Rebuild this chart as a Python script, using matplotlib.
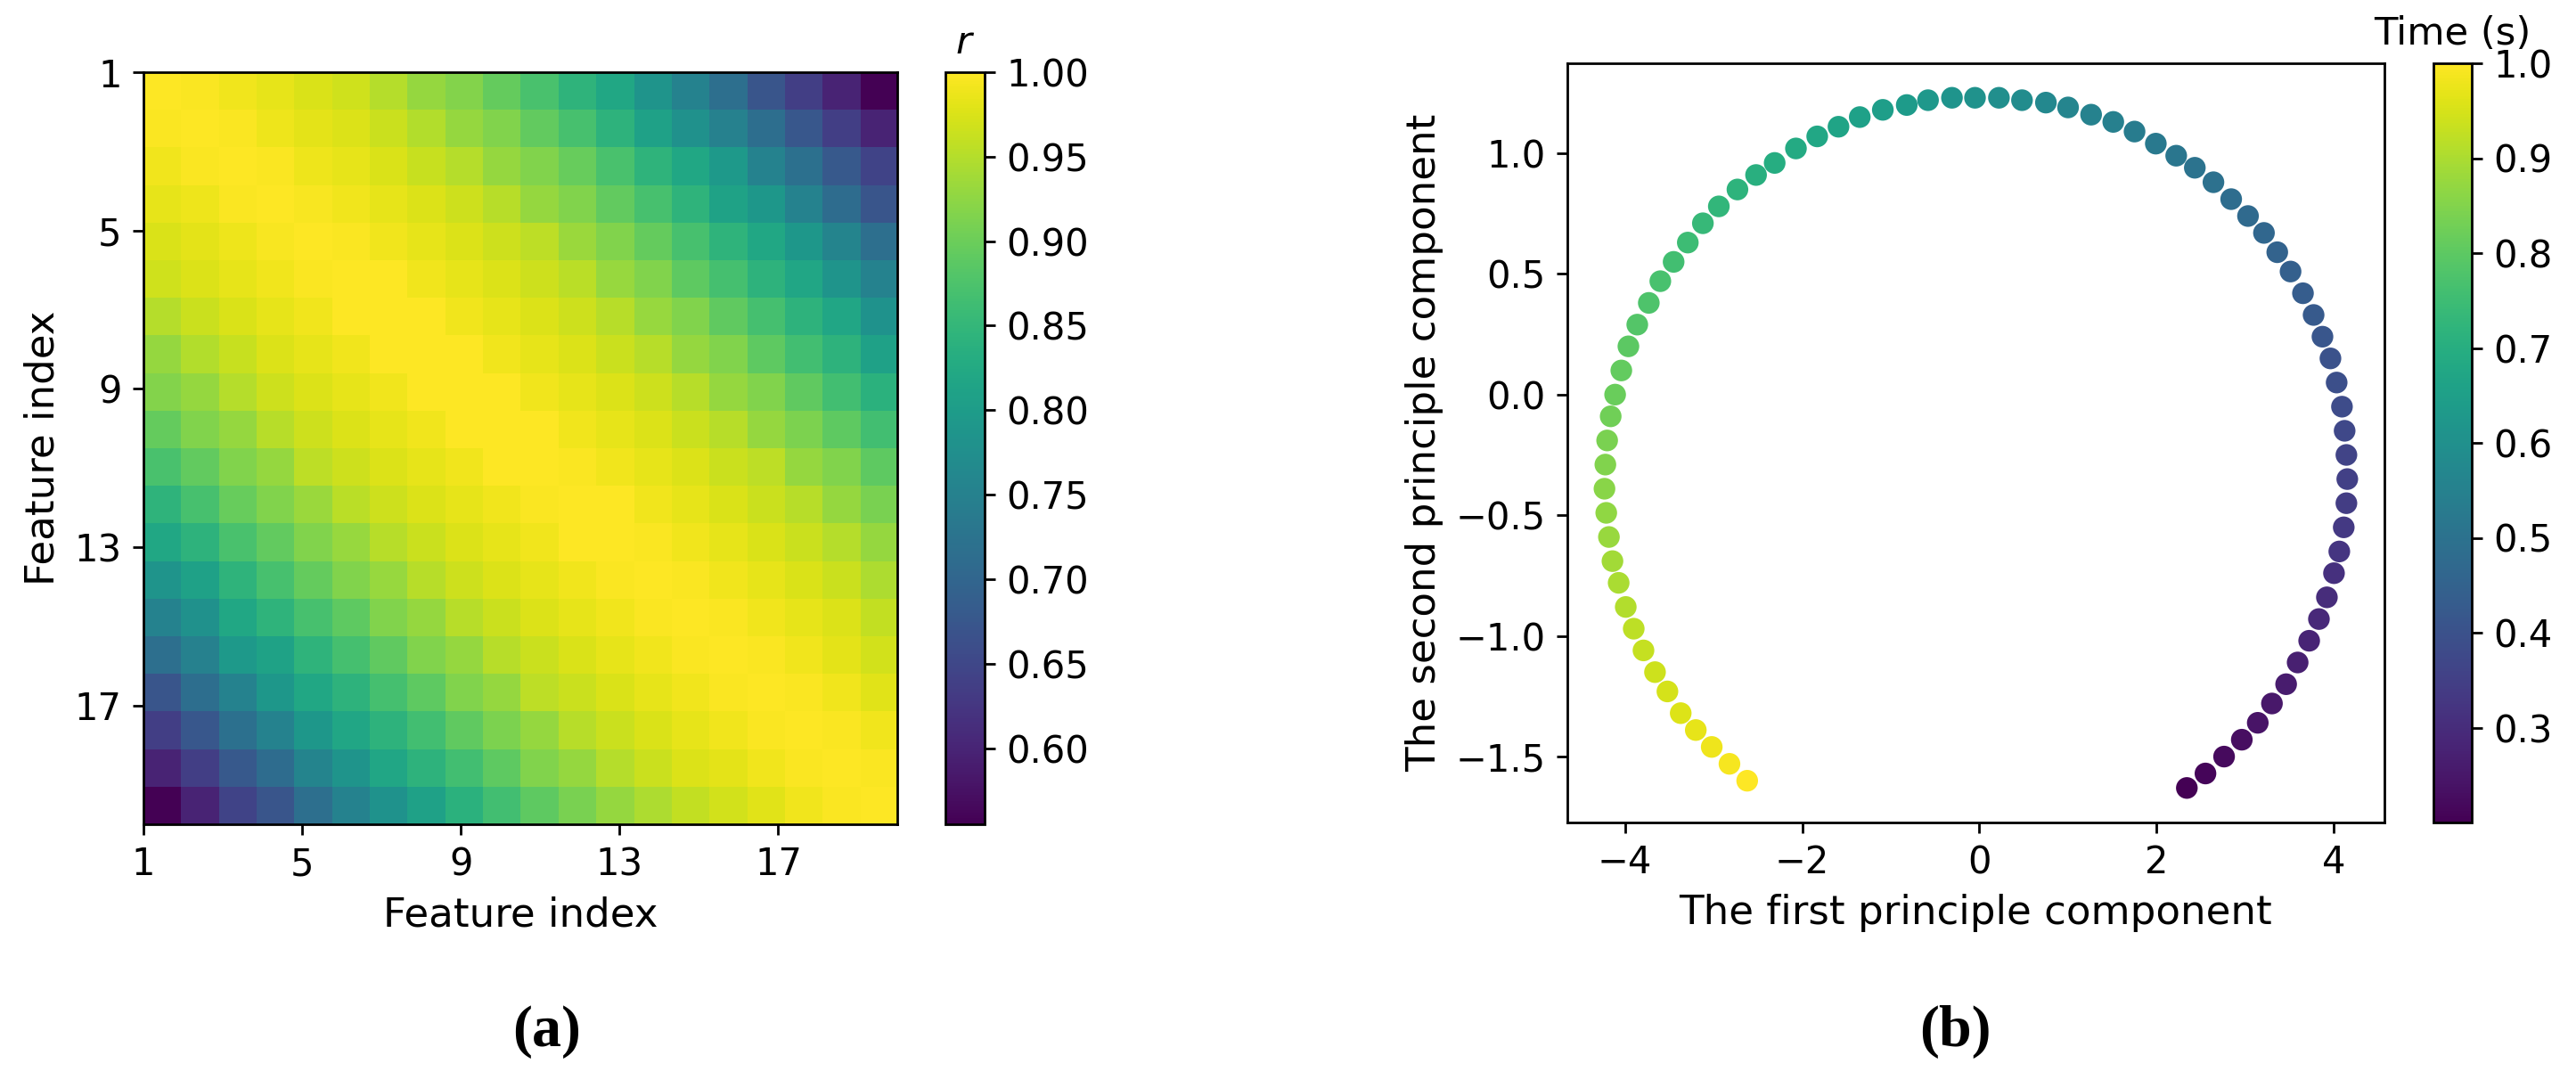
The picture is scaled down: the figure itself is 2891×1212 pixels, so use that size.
import numpy as np
import matplotlib
matplotlib.use("Agg")
import matplotlib.pyplot as plt

# ------------------------------------------------------------
# DATA
# ------------------------------------------------------------

feature_ticks = [1, 5, 9, 13, 17]

# upper triangle of the correlation matrix, row by row (col >= row)
r_upper = [
    [1.000, 0.998, 0.990, 0.984, 0.975, 0.968, 0.950, 0.930, 0.917, 0.895,
     0.872, 0.845, 0.820, 0.785, 0.752, 0.718, 0.672, 0.638, 0.600, 0.555],
    [1.000, 0.998, 0.988, 0.982, 0.976, 0.965, 0.948, 0.930, 0.915, 0.893,
     0.870, 0.843, 0.810, 0.780, 0.750, 0.715, 0.675, 0.638, 0.600],
    [1.000, 0.997, 0.988, 0.984, 0.975, 0.962, 0.950, 0.930, 0.915, 0.897,
     0.873, 0.845, 0.820, 0.795, 0.752, 0.720, 0.680, 0.645],
    [1.000, 0.996, 0.990, 0.984, 0.976, 0.966, 0.953, 0.930, 0.916, 0.893,
     0.870, 0.845, 0.812, 0.790, 0.752, 0.712, 0.673],
    [1.000, 0.997, 0.990, 0.984, 0.976, 0.966, 0.955, 0.933, 0.915, 0.895,
     0.870, 0.845, 0.820, 0.790, 0.755, 0.718],
    [1.000, 0.999, 0.991, 0.984, 0.976, 0.966, 0.954, 0.932, 0.915, 0.890,
     0.868, 0.843, 0.818, 0.785, 0.752],
    [1.000, 0.999, 0.991, 0.984, 0.976, 0.966, 0.953, 0.932, 0.915, 0.892,
     0.868, 0.843, 0.818, 0.782],
    [1.000, 0.999, 0.990, 0.984, 0.976, 0.965, 0.952, 0.930, 0.915, 0.890,
     0.866, 0.842, 0.810],
    [1.000, 0.999, 0.990, 0.983, 0.976, 0.966, 0.953, 0.930, 0.915, 0.892,
     0.866, 0.840],
    [1.000, 0.999, 0.991, 0.984, 0.976, 0.965, 0.952, 0.930, 0.913, 0.890,
     0.865],
    [1.000, 0.998, 0.990, 0.984, 0.976, 0.965, 0.955, 0.930, 0.915, 0.890],
    [1.000, 0.999, 0.990, 0.984, 0.975, 0.965, 0.952, 0.930, 0.910],
    [1.000, 0.998, 0.990, 0.983, 0.975, 0.965, 0.950, 0.930],
    [1.000, 0.998, 0.990, 0.983, 0.975, 0.965, 0.945],
    [1.000, 0.998, 0.990, 0.984, 0.976, 0.960],
    [1.000, 0.998, 0.990, 0.982, 0.970],
    [1.000, 0.998, 0.990, 0.980],
    [1.000, 0.998, 0.990],
    [1.000, 0.998],
    [1.000],
]

pc1 = [
    2.34, 2.55, 2.76, 2.96, 3.14, 3.30, 3.46, 3.59, 3.72, 3.83,
    3.92, 4.00, 4.06, 4.11, 4.14, 4.15, 4.14, 4.12, 4.09, 4.03,
    3.96, 3.87, 3.77, 3.65, 3.51, 3.36, 3.21, 3.03, 2.84, 2.64,
    2.43, 2.22, 1.99, 1.75, 1.51, 1.26, 1.00, 0.75, 0.48, 0.22,
    -0.05, -0.31, -0.58, -0.82, -1.09, -1.35, -1.59, -1.83, -2.07, -2.31,
    -2.52, -2.73, -2.94, -3.12, -3.29, -3.45, -3.60, -3.73, -3.86, -3.96,
    -4.04, -4.11, -4.16, -4.20, -4.22, -4.23, -4.21, -4.18, -4.14, -4.07,
    -3.99, -3.90, -3.79, -3.66, -3.52, -3.37, -3.20, -3.02, -2.82, -2.62,
]

pc2 = [
    -1.63, -1.57, -1.50, -1.43, -1.36, -1.28, -1.20, -1.11, -1.02, -0.93,
    -0.84, -0.74, -0.65, -0.55, -0.45, -0.35, -0.25, -0.15, -0.05, 0.05,
    0.15, 0.24, 0.33, 0.42, 0.51, 0.59, 0.67, 0.74, 0.81, 0.88,
    0.94, 0.99, 1.04, 1.09, 1.13, 1.16, 1.19, 1.21, 1.22, 1.23,
    1.23, 1.23, 1.22, 1.20, 1.18, 1.15, 1.11, 1.07, 1.02, 0.96,
    0.91, 0.85, 0.78, 0.71, 0.63, 0.55, 0.47, 0.38, 0.29, 0.20,
    0.10, 0.00, -0.09, -0.19, -0.29, -0.39, -0.49, -0.59, -0.69, -0.78,
    -0.88, -0.97, -1.06, -1.15, -1.23, -1.32, -1.39, -1.46, -1.53, -1.60,
]

time_s = [
    0.200, 0.210, 0.220, 0.230, 0.241, 0.251, 0.261, 0.271, 0.281, 0.291,
    0.301, 0.311, 0.322, 0.332, 0.342, 0.352, 0.362, 0.372, 0.382, 0.392,
    0.403, 0.413, 0.423, 0.433, 0.443, 0.453, 0.463, 0.473, 0.484, 0.494,
    0.504, 0.514, 0.524, 0.534, 0.544, 0.554, 0.565, 0.575, 0.585, 0.595,
    0.605, 0.615, 0.625, 0.635, 0.646, 0.656, 0.666, 0.676, 0.686, 0.696,
    0.706, 0.716, 0.727, 0.737, 0.747, 0.757, 0.767, 0.777, 0.787, 0.797,
    0.808, 0.818, 0.828, 0.838, 0.848, 0.858, 0.868, 0.878, 0.889, 0.899,
    0.909, 0.919, 0.929, 0.939, 0.949, 0.959, 0.970, 0.980, 0.990, 1.000,
]

# ------------------------------------------------------------
# BUILD SYMMETRIC MATRIX
# ------------------------------------------------------------

n = len(r_upper)
corr = np.zeros((n, n))
for i, row in enumerate(r_upper):
    for k, v in enumerate(row):
        corr[i, i + k] = v
        corr[i + k, i] = v

# ------------------------------------------------------------
# FIGURE
# ------------------------------------------------------------

plt.rcParams['font.size'] = 12
plt.rcParams['axes.labelsize'] = 13

W, H = 2891, 1212
DPI = 250
fig = plt.figure(figsize=(W / DPI, H / DPI), dpi=DPI)


def box(x0, y0, x1, y1):
    return [x0 / W, 1 - y1 / H, (x1 - x0) / W, (y1 - y0) / H]


# (a) heatmap
ax1 = fig.add_axes(box(161, 81, 1007, 925))
cax1 = fig.add_axes(box(1061, 81, 1105, 925))

im = ax1.imshow(corr, cmap='viridis', extent=[1, 20, 20, 1],
                aspect='auto', interpolation='nearest')
ax1.set_xticks(feature_ticks)
ax1.set_yticks(feature_ticks)
ax1.set_xlabel("Feature index")
ax1.set_ylabel("Feature index")

cb1 = fig.colorbar(im, cax=cax1)
cb1.set_ticks([0.60, 0.65, 0.70, 0.75, 0.80, 0.85, 0.90, 0.95, 1.00])
cb1.ax.set_title("$r$", fontsize=12.5)

# (b) PCA trajectory
ax2 = fig.add_axes(box(1759, 71, 2676, 923))
cax2 = fig.add_axes(box(2731, 71, 2774, 923))

sc = ax2.scatter(pc1, pc2, c=time_s, cmap='viridis', s=36)
ax2.set_xlabel("The first principle component")
ax2.set_ylabel("The second principle component")
ax2.set_xticks([-4, -2, 0, 2, 4])
ax2.set_yticks([-1.5, -1.0, -0.5, 0.0, 0.5, 1.0])

cb2 = fig.colorbar(sc, cax=cax2)
cb2.set_ticks([0.3, 0.4, 0.5, 0.6, 0.7, 0.8, 0.9, 1.0])
cb2.ax.set_title("Time (s)", fontsize=12.5)

# panel captions
fig.text(614 / W, 1 - 1158 / H, "(a)", ha='center', va='center',
         family='Liberation Serif', weight='bold', fontsize=19)
fig.text(2194 / W, 1 - 1158 / H, "(b)", ha='center', va='center',
         family='Liberation Serif', weight='bold', fontsize=19)

fig.savefig("out.png", dpi=DPI)
